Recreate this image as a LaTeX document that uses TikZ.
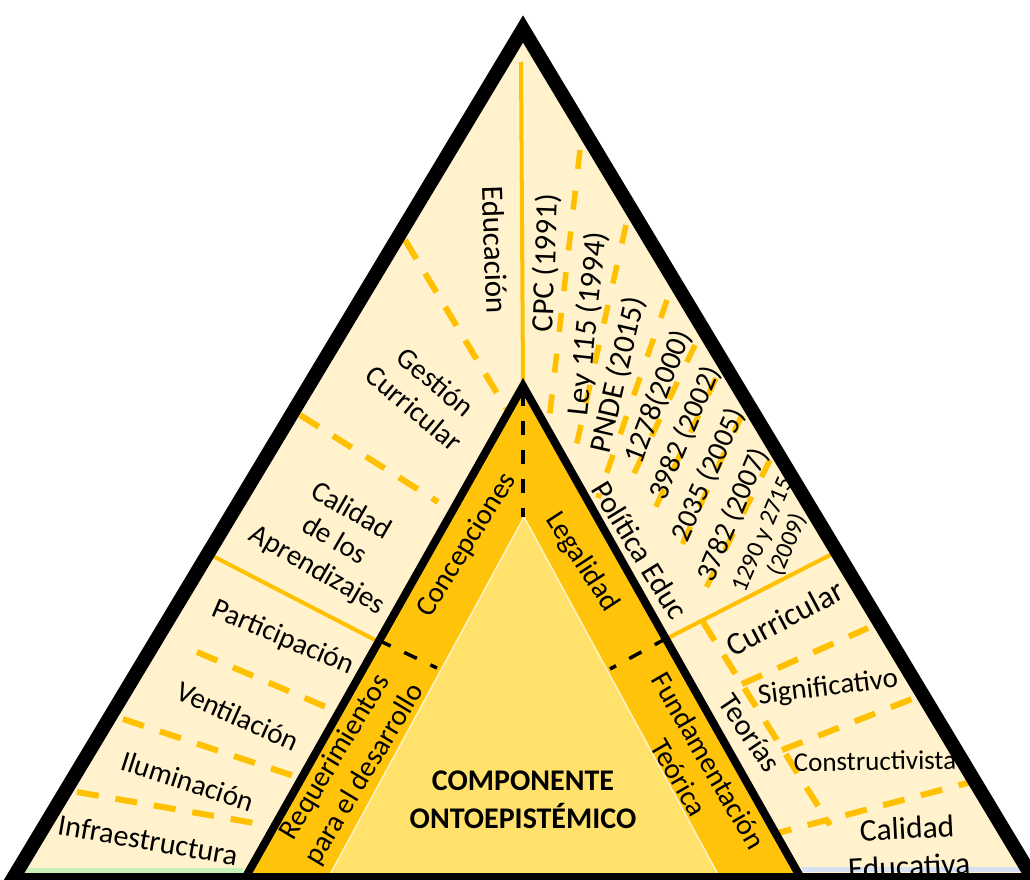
\documentclass[tikz,border=0pt]{standalone}
\usepackage{fontspec}
\setmainfont{Carlito}
\definecolor{cream}{HTML}{FFF2CC}
\definecolor{gold}{HTML}{FFC40A}
\definecolor{lightgold}{HTML}{FFE16B}
\definecolor{dashor}{HTML}{FFC000}
\definecolor{stripgreen}{HTML}{C6F0B8}
\definecolor{stripblue}{HTML}{D6E2F2}
\begin{document}
\begin{tikzpicture}[x=1pt,y=-1pt,
  lbl/.style={font=\fontsize{29}{34}\selectfont, align=center, inner sep=0pt, text=black},
  leg/.style={font=\fontsize{31}{34}\selectfont, align=center, inner sep=0pt},
  small/.style={font=\fontsize{24.5}{27}\selectfont, align=center, inner sep=0pt},
  boldlbl/.style={font=\fontsize{30}{38}\selectfont\bfseries, align=center, inner sep=0pt},
  odash/.style={draw=dashor, line width=6pt, dash pattern=on 22pt off 17pt},
  ldash/.style={draw=dashor, line width=5.5pt, dash pattern=on 19pt off 22pt},
  oline/.style={draw=dashor, line width=4pt},
  bdash/.style={draw=black, line width=3.5pt, dash pattern=on 14pt off 15pt},
  edge/.style={draw=black, line join=miter}]
\useasboundingbox (0,0) rectangle (1030,880);
\clip (0,0) rectangle (1030,880);
% main vertices
\coordinate (A) at (523,29);
\coordinate (BL) at (12,880);
\coordinate (BR) at (1034,880);
\coordinate (IA) at (523,386);
\coordinate (IL) at (244,880);
\coordinate (IR) at (802,880);
\coordinate (CA) at (524,517);
\coordinate (CL) at (327,880);
\coordinate (CR) at (721,880);
% fills
\fill[cream] (A) -- (BL) -- (BR) -- cycle;
\fill[gold] (IA) -- (IL) -- (IR) -- cycle;
\fill[lightgold] (CA) -- (CL) -- (CR) -- cycle;
\draw[draw=white!60!lightgold, line width=1.5pt] (CL) -- (CA) -- (CR);
\fill[stripgreen] (25,868) rectangle (243,873);
\fill[stripblue] (802,867) rectangle (1025,872);
% solid orange dividers
\coordinate (v1) at (521,62);
\coordinate (v2) at (523,382);
\draw[oline] (v1) -- (v2);
\coordinate (l1) at (205,552);
\coordinate (l2) at (379,642);
\draw[oline] (l1) -- (l2);
\coordinate (r1) at (662,641);
\coordinate (r2) at (838,551);
\draw[oline] (r1) -- (r2);
% left dashed dividers
\coordinate (ed1) at (405,240); \coordinate (ed2) at (507,410);
\draw[odash] (ed1) -- (ed2);
\coordinate (gc1) at (300,415); \coordinate (gc2) at (438,502);
\draw[odash] (gc1) -- (gc2);
\coordinate (pv1) at (197,652); \coordinate (pv2) at (340,713);
\draw[odash] (pv1) -- (pv2);
\coordinate (vi1) at (123,719); \coordinate (vi2) at (300,778);
\draw[odash] (vi1) -- (vi2);
\coordinate (ii1) at (77,792); \coordinate (ii2) at (260,824);
\draw[odash] (ii1) -- (ii2);
% legal list dashed dividers
\coordinate (d1a) at (580,150); \coordinate (d1b) at (548,430);
\coordinate (d2a) at (626,225); \coordinate (d2b) at (572,465);
\coordinate (d3a) at (667,300); \coordinate (d3b) at (598,498);
\coordinate (d4a) at (695,345); \coordinate (d4b) at (630,482);
\coordinate (d5a) at (716,378); \coordinate (d5b) at (652,515);
\coordinate (d6a) at (742,415); \coordinate (d6b) at (675,560);
\coordinate (d7a) at (770,460); \coordinate (d7b) at (700,600);
\foreach \i in {1,...,7}{\draw[ldash] (d\i a) -- (d\i b);}
% right lower dashed dividers
\coordinate (tv1) at (703,622); \coordinate (tv2) at (830,825);
\draw[odash] (tv1) -- (tv2);
\coordinate (cs1) at (742,684); \coordinate (cs2) at (868,628);
\draw[odash] (cs1) -- (cs2);
\coordinate (sc1) at (782,750); \coordinate (sc2) at (917,697);
\draw[odash] (sc1) -- (sc2);
\coordinate (cc1) at (770,835); \coordinate (cc2) at (975,781);
\draw[odash] (cc1) -- (cc2);
% black dashed dividers in the gold band
\coordinate (bd1) at (523,392); \coordinate (bd2) at (523,517);
\draw[bdash] (bd1) -- (bd2);
\coordinate (bl1) at (378,640); \coordinate (bl2) at (437,668);
\draw[bdash] (bl1) -- (bl2);
\coordinate (br1) at (667,638); \coordinate (br2) at (610,669);
\draw[bdash] (br1) -- (br2);
% left labels
\node[lbl, font=\fontsize{31}{34}\selectfont, rotate=-88] (educ) at (495,250) {Educación};
\node[lbl, rotate=-40] (gest) at (425,395) {Gestión\\Curricular};
\node[lbl, rotate=-30] (calap) at (334,541) {Calidad\\de los\\Aprendizajes};
\node[lbl, rotate=-23] (part) at (283,638) {Participación};
\node[lbl, rotate=-24] (vent) at (238,716) {Ventilación};
\node[lbl, rotate=-18] (ilum) at (188,781) {Iluminación};
\node[lbl, font=\fontsize{30}{34}\selectfont, rotate=-10] (infra) at (148,840) {Infraestructura};
% legal list
\node[leg, rotate=88] (cpc) at (546,263) {CPC (1991)};
\node[leg, rotate=84] (ley) at (588,324) {Ley 115 (1994)};
\node[leg, rotate=77] (pnde) at (618,375) {PNDE (2015)};
\node[leg, font=\fontsize{30}{34}\selectfont, rotate=69] (n1278) at (658,397) {1278(2000)};
\node[lbl, rotate=67] (n3982) at (685,433) {3982 (2002)};
\node[lbl, rotate=66] (n2035) at (708,475) {2035 (2005)};
\node[lbl, rotate=67] (n3782) at (733,515) {3782 (2007)};
\node[small, rotate=67] (n1290) at (776,540) {1290 y 2715\\(2009)};
\node[leg, font=\fontsize{30.5}{34}\selectfont, rotate=-58.5] (polit) at (640,550) {Política Educ};
% gold band labels
\node[lbl, rotate=58] (conc) at (467,545) {Concepciones};
\node[lbl, rotate=-57] (legal) at (582,562) {Legalidad};
\node[lbl, rotate=59] (requ) at (350,766) {Requerimientos\\para el desarrollo};
\node[lbl, rotate=-60] (fund) at (694,769) {Fundamentación\\Teórica};
\node[boldlbl] (comp) at (523,800) {COMPONENTE\\ONTOEPISTÉMICO};
% right lower labels
\node[lbl, font=\fontsize{32}{36}\selectfont, rotate=28] (curr) at (785,618) {Curricular};
\node[lbl, font=\fontsize{30}{34}\selectfont, rotate=-56] (teor) at (750,733) {Teorías};
\node[lbl, rotate=7] (signif) at (828,688) {Significativo};
\node[lbl, font=\fontsize{27}{32}\selectfont, rotate=1] (constr) at (875,761) {Constructivista};
\node[lbl, font=\fontsize{31.5}{38}\selectfont, rotate=3] (caled) at (908,847) {Calidad\\Educativa};
% black outlines on top
\draw[edge, line width=8pt] (IL) -- (IA) -- (IR);
\draw[edge, line width=14pt] (A) -- (BL) -- (BR) -- cycle;
\end{tikzpicture}
\end{document}
